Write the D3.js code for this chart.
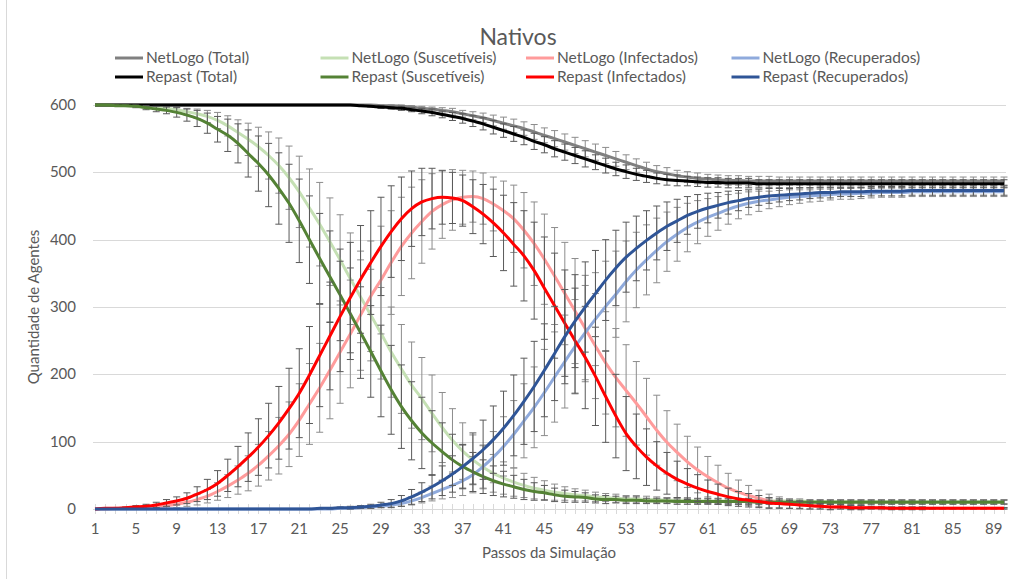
<!DOCTYPE html>
<meta charset="utf-8">
<style>
    body { margin: 0; background: #fff; }
    svg { font-family: Lato, "Open Sans", sans-serif; }
    .grid line { stroke: #d9d9d9; stroke-width: 1; }
    .lbl { fill: #595959; font-size: 15px; }
    .title { fill: #595959; font-size: 23px; }
    .axtitle { fill: #595959; font-size: 15px; }
    .leg { fill: #595959; font-size: 15.5px; }
</style>
<body>
<svg width="1016" height="579"></svg>
</body>
<script src="https://cdn.jsdelivr.net/npm/d3@7"></script>
<script>

    // steps 1..90
    var steps = d3.range(1, 91);
    var xTickLabels = [1, 5, 9, 13, 17, 21, 25, 29, 33, 37, 41, 45, 49, 53, 57, 61, 65, 69, 73, 77, 81, 85, 89];
    var yTicks = [0, 100, 200, 300, 400, 500, 600];

    var nlTotal = [600,600,600,600,600,600,600,600,600,600, 600,600,600,600,600,600,600,600,600,600,
        600,600,600,600,600,600,600,600,599,599, 598,597,595,594,592,590,587,584,581,577,
        573,569,565,560,555,550,545,540,535,530, 525,520,515,510,505,501,498,495,493,491,
        490,489,488,488,487,487,487,487,487,487, 487,487,487,487,487,487,487,487,487,487,
        487,487,487,487,487,487,487,487,487,487];
    var nlSusc = [600,600,600,599,599,598,597,595,593,590, 587,583,577,569,559,549,538,525,510,492,
        471,447,423,397,370,342,315,288,261,233, 208,184,164,142,121,102,86,73,62,53,
        46,40,35,31,28,25,23,21,20,18, 17,16,15,15,14,14,13,13,13,12,
        12,12,12,12,12,12,12,12,12,12, 11,11,11,11,11,11,11,11,11,11,
        11,11,11,11,11,11,11,11,11,11];
    var nlInf = [0,0,1,1,2,3,4,5,7,10, 14,19,26,34,43,53,65,79,94,111,
        132,156,180,206,233,260,288,316,340,366, 390,410,427,442,452,459,463,464,461,453,
        443,431,414,394,371,346,320,294,268,242, 217,195,176,157,137,117,99,84,70,58,
        48,39,31,25,20,16,12,10,8,6, 5,4,3,3,2,2,2,1,1,1,
        1,1,1,1,1,1,1,1,1,1];
    var nlRec = [0,0,0,0,0,0,0,0,0,0, 0,0,0,0,0,0,0,0,0,0,
        0,0,0,0,1,1,2,3,4,6, 8,12,17,23,29,35,42,51,63,77,
        93,111,131,151,173,196,219,241,262,282, 301,319,338,355,370,384,397,408,418,426,
        433,439,445,450,454,457,459,461,463,464, 465,466,467,468,468,469,469,470,470,470,
        471,471,471,471,471,471,471,471,471,471];

    var rpTotal = [600,600,600,600,600,600,600,600,600,600, 600,600,600,600,600,600,600,600,600,600,
        600,600,600,600,600,600,599,598,597,596, 595,593,591,589,586,583,580,576,572,567,
        562,557,552,546,541,535,530,525,520,515, 510,505,501,497,494,491,489,488,487,486,
        485,485,484,484,484,483,483,483,483,483, 483,483,483,483,483,483,483,483,483,483,
        483,483,483,483,483,483,483,483,483,483];
    var rpSusc = [600,600,599,599,598,596,594,592,589,585, 580,573,564,555,543,528,513,496,476,454,
        428,400,372,345,318,290,262,234,205,177, 152,131,113,98,85,73,63,55,48,42,
        37,33,29,26,24,21,19,18,17,15, 14,14,13,13,12,12,12,11,11,11,
        11,11,11,11,11,10,10,10,10,10, 10,10,10,10,10,10,10,10,10,10,
        10,10,10,10,10,10,10,10,10,10];
    var rpInf = [0,1,1,2,3,4,6,9,12,16, 22,29,38,50,63,77,92,109,128,149,
        172,199,228,257,286,314,341,366,390,412, 431,446,456,461,463,462,458,449,438,425,
        410,393,376,354,328,302,276,250,225,197, 167,138,112,93,77,64,53,44,37,31,
        26,22,18,15,13,11,9,8,7,6, 5,4,3,3,2,2,2,2,1,1,
        1,1,1,1,1,1,1,1,1,1];
    var rpRec = [0,0,0,0,0,0,0,0,0,0, 0,0,0,0,0,0,0,0,0,0,
        0,0,1,1,2,2,3,4,6,8, 12,18,25,33,42,52,63,75,88,103,
        120,139,160,182,206,231,256,279,300,320, 340,358,374,387,399,410,420,428,436,442,
        447,451,455,458,461,463,465,466,467,468, 469,470,470,471,471,471,472,472,472,472,
        473,473,473,473,473,473,473,473,473,473];

    // standard deviations (error bars)
    var nlTotalSd = [0,0,0,0,0,0,0,0,0,0, 0,0,0,0,0,0,0,0,0,0,
        0,0,0,0,0,0,0,0,1,1, 2,2,3,3,4,5,5,6,7,8,
        9,10,10,11,11,12,12,12,12,12, 12,11,11,10,10,9,9,8,8,8,
        7,7,7,7,7,7,7,6,6,6, 6,6,6,6,6,6,6,6,6,6,
        6,6,6,6,6,6,6,6,6,6];
    var nlSuscSd = [0,0,0,0,1,1,2,3,4,5, 7,9,12,15,19,24,29,35,41,47,
        53,58,62,65,67,68,68,68,68,67, 66,64,61,57,52,47,42,37,32,28,
        24,21,18,16,14,12,10,9,8,7, 6,6,5,5,5,4,4,4,4,4,
        4,4,4,4,4,4,4,3,3,3, 3,3,3,3,3,3,3,3,3,3,
        3,3,3,3,3,3,3,3,3,3];
    var nlInfSd = [0,0,1,1,1,2,3,4,5,6, 8,10,13,17,21,26,31,36,42,48,
        54,60,66,72,76,80,82,82,80,77, 73,68,62,56,50,45,40,38,38,40,
        44,50,56,62,67,72,76,78,79,78, 76,73,68,62,57,52,47,42,38,34,
        30,26,22,18,15,12,10,8,7,6, 5,4,4,3,3,3,2,2,2,2,
        2,2,1,1,1,1,1,1,1,1];
    var nlRecSd = [0,0,0,0,0,0,0,0,0,0, 0,0,0,0,0,0,0,0,0,0,
        0,0,0,0,1,1,1,2,2,3, 4,6,8,11,14,18,22,27,32,38,
        44,50,55,60,64,67,69,70,70,69, 67,64,60,56,52,48,44,40,36,32,
        28,25,22,19,17,15,13,12,11,10, 9,9,8,8,8,8,7,7,7,7,
        7,7,7,7,7,7,7,7,7,7];

    var rpTotalSd = [0,0,0,0,0,0,0,0,0,0, 0,0,0,0,0,0,0,0,0,0,
        0,0,0,0,0,0,1,1,2,2, 3,3,4,5,5,6,7,8,9,10,
        10,11,11,12,12,12,12,12,12,11, 11,10,10,9,9,8,8,8,7,7,
        7,7,7,7,7,6,6,6,6,6, 6,6,6,6,6,6,6,6,6,6,
        6,6,6,6,6,6,6,6,6,6];
    var rpSuscSd = [0,0,1,1,2,3,4,5,7,9, 12,15,19,24,29,35,41,47,53,58,
        62,65,67,68,68,68,68,68,68,66, 62,58,53,48,43,38,33,29,25,22,
        19,17,15,13,11,10,9,8,7,6, 6,5,5,5,4,4,4,4,4,4,
        4,4,4,4,4,3,3,3,3,3, 3,3,3,3,3,3,3,3,3,3,
        3,3,3,3,3,3,3,3,3,3];
    var rpInfSd = [0,1,1,1,2,3,4,5,6,8, 11,15,19,24,30,36,42,48,54,60,
        66,72,76,80,82,82,80,77,73,68, 62,56,50,45,40,38,38,40,44,50,
        56,62,67,72,76,78,79,78,76,73, 68,62,55,48,42,36,31,27,23,20,
        17,15,13,11,10,9,8,7,6,5, 5,4,4,3,3,3,2,2,2,2,
        2,2,1,1,1,1,1,1,1,1];
    var rpRecSd = [0,0,0,0,0,0,0,0,0,0, 0,0,0,0,0,0,0,0,0,0,
        0,0,1,1,1,2,2,3,4,6, 8,11,14,18,22,27,32,38,44,50,
        55,60,64,67,69,70,70,69,67,64, 60,56,52,48,44,40,36,32,28,25,
        22,19,17,15,13,12,11,10,9,9, 8,8,8,7,7,7,7,7,7,7,
        7,7,7,7,7,7,7,7,7,7];

    var series = [
        {name: "NetLogo (Total)", values: nlTotal, sd: nlTotalSd, color: "#808080", bar: "#8c8c8c"},
        {name: "NetLogo (Suscetíveis)", values: nlSusc, sd: nlSuscSd, color: "#c5e0b4", bar: "#8c8c8c"},
        {name: "NetLogo (Infectados)", values: nlInf, sd: nlInfSd, color: "#ff9b9b", bar: "#8c8c8c"},
        {name: "NetLogo (Recuperados)", values: nlRec, sd: nlRecSd, color: "#8faadc", bar: "#8c8c8c"},
        {name: "Repast (Total)", values: rpTotal, sd: rpTotalSd, color: "#000000", bar: "#595959"},
        {name: "Repast (Suscetíveis)", values: rpSusc, sd: rpSuscSd, color: "#548235", bar: "#595959"},
        {name: "Repast (Infectados)", values: rpInf, sd: rpInfSd, color: "#ff0000", bar: "#595959"},
        {name: "Repast (Recuperados)", values: rpRec, sd: rpRecSd, color: "#2f5597", bar: "#595959"}
    ];

    var svg = d3.select("svg"),
        width = +svg.attr("width"),
        height = +svg.attr("height");

    var x = d3.scalePoint()
        .domain(steps)
        .range([95, 1004]);

    var y = d3.scaleLinear()
        .domain([0, 600])
        .range([509, 105]);

    // chart border (left edge)
    svg.append("line")
        .attr("x1", 6.5).attr("x2", 6.5)
        .attr("y1", 0).attr("y2", height)
        .attr("stroke", "#d9d9d9");

    // gridlines
    svg.append("g")
        .attr("class", "grid")
        .selectAll("line")
        .data(yTicks)
        .enter().append("line")
        .attr("x1", 93)
        .attr("x2", 1006)
        .attr("y1", function (d) { return Math.round(y(d)) + 0.5; })
        .attr("y2", function (d) { return Math.round(y(d)) + 0.5; });

    // category tick marks
    svg.append("g")
        .attr("class", "grid")
        .selectAll("line")
        .data(steps)
        .enter().append("line")
        .attr("x1", function (d) { return Math.round(x(d)) + 0.5; })
        .attr("x2", function (d) { return Math.round(x(d)) + 0.5; })
        .attr("y1", y(0) - 5)
        .attr("y2", y(0) + 5);

    // y axis labels
    svg.append("g")
        .selectAll("text")
        .data(yTicks)
        .enter().append("text")
        .attr("class", "lbl")
        .attr("x", 76)
        .attr("y", function (d) { return y(d) + 5; })
        .attr("text-anchor", "end")
        .text(function (d) { return d; });

    // x axis labels
    svg.append("g")
        .selectAll("text")
        .data(xTickLabels)
        .enter().append("text")
        .attr("class", "lbl")
        .attr("x", function (d) { return x(d); })
        .attr("y", 534)
        .attr("text-anchor", "middle")
        .text(function (d) { return d; });

    svg.append("text")
        .attr("class", "title")
        .attr("x", 518)
        .attr("y", 45)
        .attr("text-anchor", "middle")
        .text("Nativos");

    svg.append("text")
        .attr("class", "axtitle")
        .attr("x", 549)
        .attr("y", 558)
        .attr("text-anchor", "middle")
        .text("Passos da Simulação");

    svg.append("text")
        .attr("class", "axtitle")
        .attr("transform", "translate(39," + ((y(0) + y(600)) / 2) + ") rotate(-90)")
        .attr("text-anchor", "middle")
        .text("Quantidade de Agentes");

    var line = d3.line()
        .x(function (d, i) { return x(steps[i]); })
        .y(function (d) { return y(d); })
        .curve(d3.curveMonotoneX);

    series.forEach(function (s) {
        var g = svg.append("g");
        var pts = s.values.map(function (v, i) { return {step: steps[i], v: v, sd: s.sd[i]}; })
            .filter(function (p) { return p.sd > 0; });

        var bars = g.selectAll(".bar")
            .data(pts)
            .enter().append("g")
            .attr("stroke", s.bar)
            .attr("stroke-width", 1);

        bars.append("line")
            .attr("x1", function (p) { return x(p.step); })
            .attr("x2", function (p) { return x(p.step); })
            .attr("y1", function (p) { return y(p.v - p.sd); })
            .attr("y2", function (p) { return y(p.v + p.sd); });
        bars.append("line")
            .attr("x1", function (p) { return x(p.step) - 3.5; })
            .attr("x2", function (p) { return x(p.step) + 3.5; })
            .attr("y1", function (p) { return y(p.v + p.sd); })
            .attr("y2", function (p) { return y(p.v + p.sd); });
        bars.append("line")
            .attr("x1", function (p) { return x(p.step) - 3.5; })
            .attr("x2", function (p) { return x(p.step) + 3.5; })
            .attr("y1", function (p) { return y(p.v - p.sd); })
            .attr("y2", function (p) { return y(p.v - p.sd); });

        g.append("path")
            .datum(s.values)
            .attr("fill", "none")
            .attr("stroke", s.color)
            .attr("stroke-width", 3)
            .attr("stroke-linejoin", "round")
            .attr("d", line);
    });

    // legend, 4 columns x 2 rows
    var legend = svg.selectAll(".legend")
        .data(series)
        .enter().append("g")
        .attr("class", "legend")
        .attr("transform", function (d, i) {
            return "translate(" + (115 + (i % 4) * 205.5) + "," + (58 + Math.floor(i / 4) * 19) + ")";
        });

    legend.append("line")
        .attr("x1", 0)
        .attr("x2", 28)
        .attr("stroke", function (d) { return d.color; })
        .attr("stroke-width", 3);

    legend.append("text")
        .attr("class", "leg")
        .attr("x", 31)
        .attr("y", 5)
        .text(function (d) { return d.name; });

</script>
